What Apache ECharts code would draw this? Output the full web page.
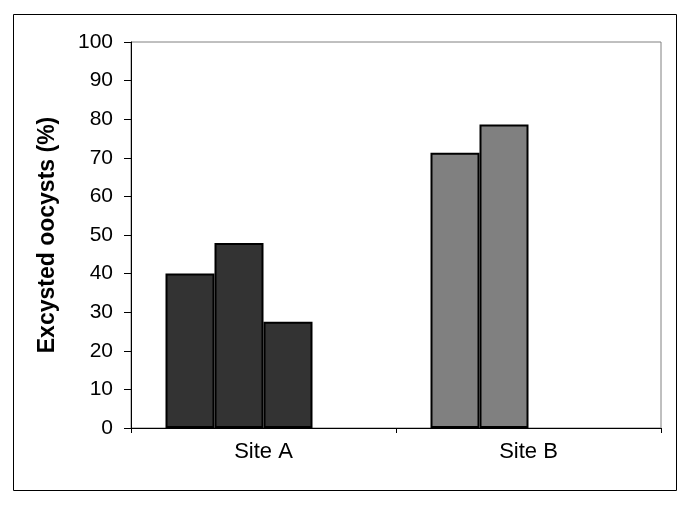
<!DOCTYPE html>
<html>
<head>
<meta charset="utf-8">
<script src="https://cdn.jsdelivr.net/npm/echarts@6/dist/echarts.min.js"></script>
<style>html,body{margin:0;padding:0;background:#fff;}#c{width:690px;height:505px;}</style>
</head>
<body>
<div id="c"></div>
<script>
var categories = ['Site A', 'Site B'];
var series1 = [40, 71.3];
var series2 = [47.9, 78.6];
var series3 = [27.5, null];
var series4 = [null, null];
var categoryColors = ['#333333', '#808080'];
var yTicks = { min: 0, max: 100, interval: 10 };
var yTitle = 'Excysted oocysts (%)';

var font = 'Liberation Sans, Arial, sans-serif';
function mk(data) {
  return {
    type: 'bar',
    data: data,
    barWidth: 49,
    barGap: '0%',
    itemStyle: {
      color: function (p) { return categoryColors[p.dataIndex]; },
      borderColor: '#000',
      borderWidth: 2
    },
    emphasis: { disabled: true },
    animation: false
  };
}
var chart = echarts.init(document.getElementById('c'));
chart.setOption({
  animation: false,
  backgroundColor: '#fff',
  graphic: [{
    type: 'rect',
    shape: { x: 13.5, y: 14.5, width: 663, height: 476 },
    style: { fill: 'none', stroke: '#000', lineWidth: 1 },
    z: -1
  }],
  grid: {
    left: 131, top: 42, right: 29, bottom: 77,
    show: true, borderColor: '#808080', borderWidth: 1, backgroundColor: 'transparent'
  },
  xAxis: {
    type: 'category',
    data: categories,
    axisLine: { lineStyle: { color: '#000', width: 1 } },
    axisTick: { show: true, length: 5, lineStyle: { color: '#000' } },
    axisLabel: { color: '#000', fontSize: 22, fontFamily: font, margin: 13 },
    splitLine: { show: false }
  },
  yAxis: {
    type: 'value',
    min: yTicks.min, max: yTicks.max, interval: yTicks.interval,
    name: yTitle,
    nameLocation: 'middle',
    nameGap: 72,
    nameTextStyle: { color: '#000', fontSize: 23, fontWeight: 'bold', fontFamily: font },
    axisLine: { show: true, lineStyle: { color: '#000', width: 1 } },
    axisTick: { show: true, length: 7, lineStyle: { color: '#000' } },
    axisLabel: { color: '#000', fontSize: 21, fontFamily: font, margin: 18 },
    splitLine: { show: false }
  },
  series: [mk(series1), mk(series2), mk(series3), mk(series4)]
});
</script>
</body>
</html>
